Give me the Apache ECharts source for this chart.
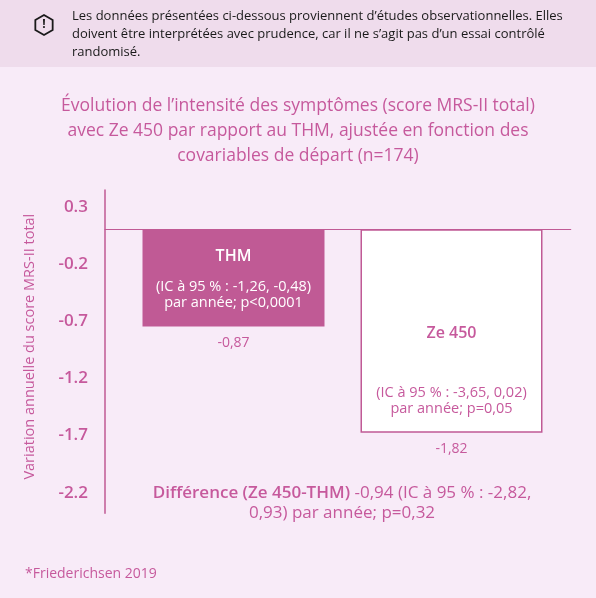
<!DOCTYPE html>
<html><head><meta charset="utf-8">
<script src="https://cdn.jsdelivr.net/npm/echarts@6/dist/echarts.min.js"></script>
<style>html,body{margin:0;padding:0;background:#f8ebf8;}#c{width:596px;height:598px;}</style>
</head><body><div id="c"></div>
<script>
// ---- data ----
const categories = ['THM', 'Ze 450'];
const values = [-0.87, -1.82];
const ciLine1 = ['(IC à 95 % : -1,26, -0,48)', '(IC à 95 % : -3,65, 0,02)'];
const ciLine2 = ['par année; p<0,0001', 'par année; p=0,05'];
const tickValues = [0.3, -0.2, -0.7, -1.2, -1.7, -2.2];
const diffBold = 'Différence (Ze 450-THM)';
const diffRest1 = ' -0,94 (IC à 95 % : -2,82,';
const diffRest2 = '0,93) par année; p=0,32';
const titleText = 'Évolution de l\u2019intensité des symptômes (score MRS-II total)\navec Ze 450 par rapport au THM, ajustée en fonction des\ncovariables de départ (n=174)';
const bannerText = 'Les données présentées ci-dessous proviennent d\u2019études observationnelles. Elles\ndoivent être interprétées avec prudence, car il ne s\u2019agit pas d\u2019un essai contrôlé\nrandomisé.';
const yName = 'Variation annuelle du score MRS-II total';
const footer = '*Friederichsen 2019';

// ---- style ----
const FONT = '"Open Sans", sans-serif';
const PINK = '#c6599c';
const BAR = '#c05a95';
const AXIS_MIN = -2.3805, AXIS_MAX = 0.4515;   // visible tick-label axis
const BAR_MIN = -2.5407, BAR_MAX = 0.3516;     // bar axis

const chart = echarts.init(document.getElementById('c'), null, {renderer: 'canvas'});

function hexPoints(cx, cy, r) {
  const pts = [];
  for (let i = 0; i < 6; i++) {
    const a = Math.PI / 2 + i * Math.PI / 3;
    pts.push([cx + r * Math.cos(a), cy - r * Math.sin(a)]);
  }
  return pts;
}

const nameLineHeights = [44, 103];
const barData = values.map((v, i) => {
  const first = i === 0;
  const txt = first ? '#ffffff' : PINK;
  return {
    value: v,
    itemStyle: first ? {color: BAR} : {color: '#ffffff', borderColor: BAR, borderWidth: 1.5},
    label: {
      show: true,
      position: 'insideBottom',
      distance: 16,
      formatter: '{n|' + categories[i] + '}\n{c|' + ciLine1[i] + '}\n{c|' + ciLine2[i] + '}',
      color: txt,
      rich: {
        n: {fontSize: 16, fontWeight: 600, lineHeight: nameLineHeights[i], fontFamily: FONT, color: txt, align: 'center'},
        c: {fontSize: 14.5, lineHeight: 16, fontFamily: FONT, color: txt, align: 'center'}
      }
    }
  };
});

chart.setOption({
  backgroundColor: '#f8ebf8',
  animation: false,
  title: [
    {text: titleText, left: 'center', top: 94, padding: 0,
     textStyle: {fontFamily: FONT, fontSize: 17.5, fontWeight: 'normal', color: PINK, lineHeight: 25}},
    {text: footer, left: 25, top: 567, padding: 0,
     textStyle: {fontFamily: FONT, fontSize: 14, fontWeight: 500, color: PINK}}
  ],
  graphic: [
    {type: 'rect', shape: {x: 0, y: 0, width: 596, height: 67}, style: {fill: '#efdcec'}, z: -1},
    {type: 'polygon', shape: {points: hexPoints(44, 25, 10)}, style: {fill: 'none', stroke: '#1a1a1a', lineWidth: 1.8}},
    {type: 'text', x: 44, y: 25, style: {text: '!', font: 'bold 12px ' + FONT, fill: '#1a1a1a', align: 'center', verticalAlign: 'middle'}},
    {type: 'text', x: 72, y: 7.5, style: {text: bannerText, font: '13px ' + FONT, fill: '#1a1a1a', lineHeight: 18, align: 'left', verticalAlign: 'top'}},
    {type: 'text', x: 342, y: 483.5, style: {
      text: '{b|' + diffBold + '}{r|' + diffRest1 + '}\n{r|' + diffRest2 + '}',
      align: 'center', verticalAlign: 'top',
      rich: {
        b: {fontFamily: FONT, fontSize: 17, fontWeight: 600, fill: PINK, color: PINK, lineHeight: 19.5},
        r: {fontFamily: FONT, fontSize: 17, fontWeight: 'normal', fill: PINK, color: PINK, lineHeight: 19.5}
      }
    }}
  ],
  grid: [
    {left: 105, right: 25.3, top: 190, bottom: 84.7},
    {left: 124.5, right: 35.5, top: 190, bottom: 84.7}
  ],
  xAxis: [
    {gridIndex: 0, type: 'category', data: [''],
     axisLine: {show: true, onZero: true, onZeroAxisIndex: 1, lineStyle: {color: BAR, width: 1.2}},
     axisTick: {show: false}, axisLabel: {show: false}, splitLine: {show: false}},
    {gridIndex: 1, type: 'category', data: categories, show: false}
  ],
  yAxis: [
    {gridIndex: 0, type: 'value', min: AXIS_MIN, max: AXIS_MAX, position: 'left',
     axisLine: {show: true, lineStyle: {color: BAR, width: 1.5}},
     axisTick: {show: false}, splitLine: {show: false},
     axisLabel: {customValues: tickValues, formatter: v => v.toFixed(1), margin: 17,
       fontFamily: FONT, fontSize: 17, fontWeight: 600, color: PINK},
     name: yName, nameLocation: 'middle', nameGap: 68, nameRotate: 90,
     nameTextStyle: {fontFamily: FONT, fontSize: 14.5, color: PINK, padding: [0, 0, 0, 10]}},
    {gridIndex: 0, type: 'value', min: BAR_MIN, max: BAR_MAX, show: false},
    {gridIndex: 1, type: 'value', min: BAR_MIN, max: BAR_MAX, show: false}
  ],
  series: [
    {type: 'bar', xAxisIndex: 1, yAxisIndex: 2, barWidth: 182, barGap: '-100%', data: barData, silent: true},
    {type: 'bar', xAxisIndex: 1, yAxisIndex: 2, barWidth: 182, barGap: '-100%', silent: true,
     data: values,
     itemStyle: {color: 'rgba(0,0,0,0)'},
     label: {show: true, position: 'bottom', distance: 9,
       formatter: p => p.value.toFixed(2).replace('.', ','),
       fontFamily: FONT, fontSize: 14, color: PINK}}
  ]
});
</script>
</body></html>
